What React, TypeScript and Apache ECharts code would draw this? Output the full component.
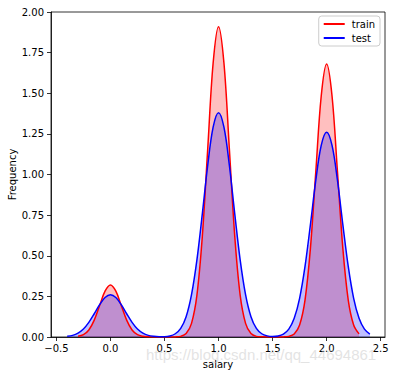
import React, { useEffect, useRef } from "react";
import * as echarts from "echarts";

const trainX = [-0.3, -0.25, -0.2, -0.15, -0.1, -0.05, 0, 0.05, 0.1, 0.15, 0.2, 0.25, 0.3, 0.35, 0.4, 0.45, 0.5, 0.55, 0.6, 0.65, 0.7, 0.75, 0.8, 0.85, 0.9, 0.95, 1, 1.05, 1.1, 1.15, 1.2, 1.25, 1.3, 1.35, 1.4, 1.45, 1.5, 1.55, 1.6, 1.65, 1.7, 1.75, 1.8, 1.85, 1.9, 1.95, 2, 2.05, 2.1, 2.15, 2.2, 2.25, 2.3];
const trainY = [0.004, 0.014, 0.043, 0.104, 0.194, 0.282, 0.32, 0.282, 0.194, 0.104, 0.043, 0.014, 0.004, 0.001, 0, 0, 0, 0.0001, 0.0006, 0.004, 0.021, 0.084, 0.258, 0.62, 1.158, 1.686, 1.91, 1.686, 1.158, 0.62, 0.258, 0.084, 0.021, 0.004, 0.001, 0, 0, 0.0001, 0.0006, 0.004, 0.019, 0.074, 0.227, 0.545, 1.019, 1.483, 1.68, 1.483, 1.019, 0.545, 0.227, 0.074, 0.019];

const testX = [-0.4, -0.35, -0.3, -0.25, -0.2, -0.15, -0.1, -0.05, 0, 0.05, 0.1, 0.15, 0.2, 0.25, 0.3, 0.35, 0.4, 0.45, 0.5, 0.55, 0.6, 0.65, 0.7, 0.75, 0.8, 0.85, 0.9, 0.95, 1, 1.05, 1.1, 1.15, 1.2, 1.25, 1.3, 1.35, 1.4, 1.45, 1.5, 1.55, 1.6, 1.65, 1.7, 1.75, 1.8, 1.85, 1.9, 1.95, 2, 2.05, 2.1, 2.15, 2.2, 2.25, 2.3, 2.35, 2.4];
const testY = [0.004, 0.01, 0.024, 0.049, 0.09, 0.143, 0.199, 0.243, 0.26, 0.243, 0.199, 0.143, 0.09, 0.049, 0.024, 0.01, 0.004, 0.002, 0.002, 0.006, 0.02, 0.053, 0.125, 0.261, 0.475, 0.758, 1.057, 1.291, 1.38, 1.291, 1.057, 0.758, 0.475, 0.261, 0.125, 0.053, 0.02, 0.007, 0.003, 0.006, 0.018, 0.048, 0.115, 0.238, 0.434, 0.692, 0.965, 1.179, 1.26, 1.179, 0.965, 0.692, 0.434, 0.238, 0.115, 0.048, 0.018];

const xTicks = [-0.5, 0, 0.5, 1, 1.5, 2, 2.5];
const seriesNames = ["train", "test"];
const xLabel = "salary";
const yLabel = "Frequency";
const watermark = "https://blog.csdn.net/qq_44694861";

const FONT = "DejaVu Sans";

export default function App() {
  const ref = useRef<HTMLDivElement>(null);
  useEffect(() => {
    if (!ref.current) return;
    const chart = echarts.init(ref.current, null, { renderer: "svg" });
    const fmtX = (v: number) => {
      const s = v.toFixed(1);
      return s.startsWith("-") ? "\u2212" + s.slice(1) : s;
    };
    const trainData = trainX.map((x, i) => [x, trainY[i]]);
    const testData = testX.map((x, i) => [x, testY[i]]);
    chart.setOption({
      animation: false,
      backgroundColor: "#fff",
      grid: {
        left: 51,
        right: 11,
        top: 12,
        bottom: 38,
        containLabel: false,
        outerBoundsMode: "none",
        show: true,
        borderColor: "#000",
        borderWidth: 0.8,
        backgroundColor: "transparent",
      },
      legend: {
        right: 16,
        top: 16,
        orient: "vertical",
        data: seriesNames,
        backgroundColor: "#fff",
        borderColor: "#ccc",
        borderWidth: 1,
        borderRadius: 3,
        padding: [3, 5, 3, 4],
        itemGap: 4,
        itemWidth: 21,
        itemHeight: 10,
        itemStyle: { opacity: 0 },
        textStyle: { fontFamily: FONT, fontSize: 10, color: "#000", padding: [0, 0, 0, 2] },
      },
      xAxis: {
        type: "value",
        min: -0.55,
        max: 2.54,
        name: xLabel,
        nameLocation: "middle",
        nameGap: 22,
        nameMoveOverlap: false,
        nameTextStyle: { fontFamily: FONT, fontSize: 10, color: "#000" },
        axisLine: { show: true, onZero: false, lineStyle: { color: "#000", width: 0.8 } },
        axisTick: { show: true, length: 4, customValues: xTicks, lineStyle: { color: "#000", width: 0.8 } },
        axisLabel: {
          customValues: xTicks,
          formatter: fmtX,
          fontFamily: FONT,
          fontSize: 10,
          color: "#000",
          margin: 6,
        },
        splitLine: { show: false },
      },
      yAxis: {
        type: "value",
        min: 0,
        max: 2,
        interval: 0.25,
        name: yLabel,
        nameLocation: "middle",
        nameGap: 34,
        nameMoveOverlap: false,
        nameTextStyle: { fontFamily: FONT, fontSize: 10, color: "#000" },
        axisLine: { show: true, onZero: false, lineStyle: { color: "#000", width: 0.8 } },
        axisTick: { show: true, length: 4, lineStyle: { color: "#000", width: 0.8 } },
        axisLabel: {
          formatter: (v: number) => v.toFixed(2),
          fontFamily: FONT,
          fontSize: 10,
          color: "#000",
          margin: 7,
        },
        splitLine: { show: false },
      },
      graphic: [
        {
          type: "text",
          left: 146,
          top: 347,
          silent: true,
          z: 100,
          style: {
            text: watermark,
            fontFamily: "Liberation Sans",
            fontSize: 15,
            fill: "rgba(200,200,200,0.5)",
          },
        },
      ],
      series: [
        {
          name: seriesNames[0],
          type: "line",
          data: trainData,
          smooth: 0.35,
          symbol: "none",
          color: "#ff0000",
          lineStyle: { color: "#ff0000", width: 1.5 },
          z: 3,
        },
        {
          name: seriesNames[1],
          type: "line",
          data: testData,
          smooth: 0.35,
          symbol: "none",
          color: "#0000ff",
          lineStyle: { color: "#0000ff", width: 1.5 },
          z: 4,
        },
        {
          name: seriesNames[0],
          type: "line",
          data: trainData,
          smooth: 0.35,
          symbol: "none",
          lineStyle: { width: 0, opacity: 0 },
          areaStyle: { color: "rgba(255,0,0,0.25)", opacity: 1, origin: 0 },
          z: 1,
        },
        {
          name: seriesNames[1],
          type: "line",
          data: testData,
          smooth: 0.35,
          symbol: "none",
          lineStyle: { width: 0, opacity: 0 },
          areaStyle: { color: "rgba(0,0,255,0.25)", opacity: 1, origin: 0 },
          z: 2,
        },
      ],
    });
    return () => chart.dispose();
  }, []);
  return (
    <div
      ref={ref}
      style={{ position: "absolute", left: 0, top: 0, width: 396, height: 375 }}
    />
  );
}
